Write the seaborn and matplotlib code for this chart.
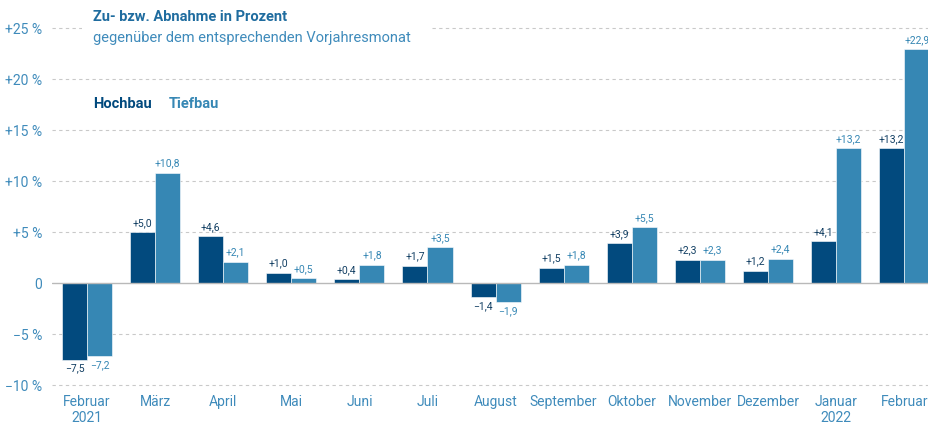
import numpy as np
import pandas as pd
import seaborn as sns
import matplotlib.pyplot as plt
from matplotlib.patches import Rectangle

# data
months = ['Februar\n2021', 'März', 'April', 'Mai', 'Juni', 'Juli', 'August',
          'September', 'Oktober', 'November', 'Dezember', 'Januar\n2022', 'Februar']
hochbau = [-7.5, 5.0, 4.6, 1.0, 0.4, 1.7, -1.4, 1.5, 3.9, 2.3, 1.2, 4.1, 13.2]
tiefbau = [-7.2, 10.8, 2.1, 0.5, 1.8, 3.5, -1.9, 1.8, 5.5, 2.3, 2.4, 13.2, 22.9]
yticks = [-10, -5, 0, 5, 10, 15, 20, 25]

df = pd.DataFrame({
    'Monat': months * 2,
    'Wert': hochbau + tiefbau,
    'Bereich': ['Hochbau'] * len(months) + ['Tiefbau'] * len(months),
})

dark = '#024a7e'
light = '#3687b4'
tick_col = '#3f8bbb'

sns.set_style('white')
plt.rcParams['font.family'] = ['Roboto', 'DejaVu Sans']

W, H = 929, 423
fig = plt.figure(figsize=(W / 100, H / 100), dpi=100)
# axes placed in pixel terms: left gridline start at x=52, y=0 at 283, 25 at 28
y_lo, y_hi = -10.4, 25.6
px_per = (385 - 28) / 35.0
bottom_px = 385 + 0.4 * px_per
top_px = 28 - 0.6 * px_per
ax = fig.add_axes([52 / W, 1 - bottom_px / H, 1 - 52 / W, (bottom_px - top_px) / H])

sns.barplot(data=df, x='Monat', y='Wert', hue='Bereich', order=months,
            palette=[dark, light], saturation=1, width=0.735, gap=0, ax=ax,
            edgecolor='white', linewidth=0.4, legend=False, zorder=3)

ax.set_xlim(-0.514, 12.365)
ax.set_ylim(y_lo, y_hi)

# dashed grid and solid zero line
for v in yticks:
    if v == 0:
        ax.axhline(0, color='#b9b9b9', lw=1.0, zorder=4)
    else:
        ax.axhline(v, color='#c9c9c9', lw=0.8, ls=(0, (3, 3)), zorder=1)

def fmt(v):
    s = f'{abs(v):.1f}'.replace('.', ',')
    return ('+' if v >= 0 else '\u2212') + s

for cont, vals, col in zip(ax.containers, [hochbau, tiefbau], ['#123f63', light]):
    ax.bar_label(cont, labels=[fmt(v) for v in vals], padding=3,
                 fontsize=7.5, color=col, zorder=5)

ax.set_yticks(yticks)
ax.set_yticklabels([('0' if v == 0 else ('+' if v > 0 else '\u2212') + f'{abs(v)} %')
                    for v in yticks], color=tick_col, fontsize=10)
ax.set_xticks(range(len(months)))
ax.set_xticklabels(months, color=tick_col, fontsize=10, linespacing=1.2)
ax.tick_params(axis='both', length=0)
ax.tick_params(axis='y', pad=7)
ax.tick_params(axis='x', pad=4)
ax.set_xlabel('')
ax.set_ylabel('')
for s in ax.spines.values():
    s.set_visible(False)

# white box behind the title, cutting the top gridline
fig.patches.append(Rectangle((82 / W, 1 - 52 / H), 350 / W, 48 / H,
                             transform=fig.transFigure, facecolor='white',
                             edgecolor='none', zorder=2))
fig.text(93 / W, 1 - 17 / H, 'Zu- bzw. Abnahme in Prozent', fontsize=10.5,
         fontweight='bold', color='#1f6c9f', va='center', zorder=3)
fig.text(93 / W, 1 - 38 / H, 'gegenüber dem entsprechenden Vorjahresmonat',
         fontsize=10.5, color=tick_col, va='center', zorder=3)
fig.text(93 / W, 1 - 104 / H, 'Hochbau', fontsize=10.5, fontweight='bold',
         color=dark, va='center')
fig.text(169 / W, 1 - 104 / H, 'Tiefbau', fontsize=10.5, fontweight='bold',
         color=light, va='center')

fig.savefig('out.png', dpi=100)
